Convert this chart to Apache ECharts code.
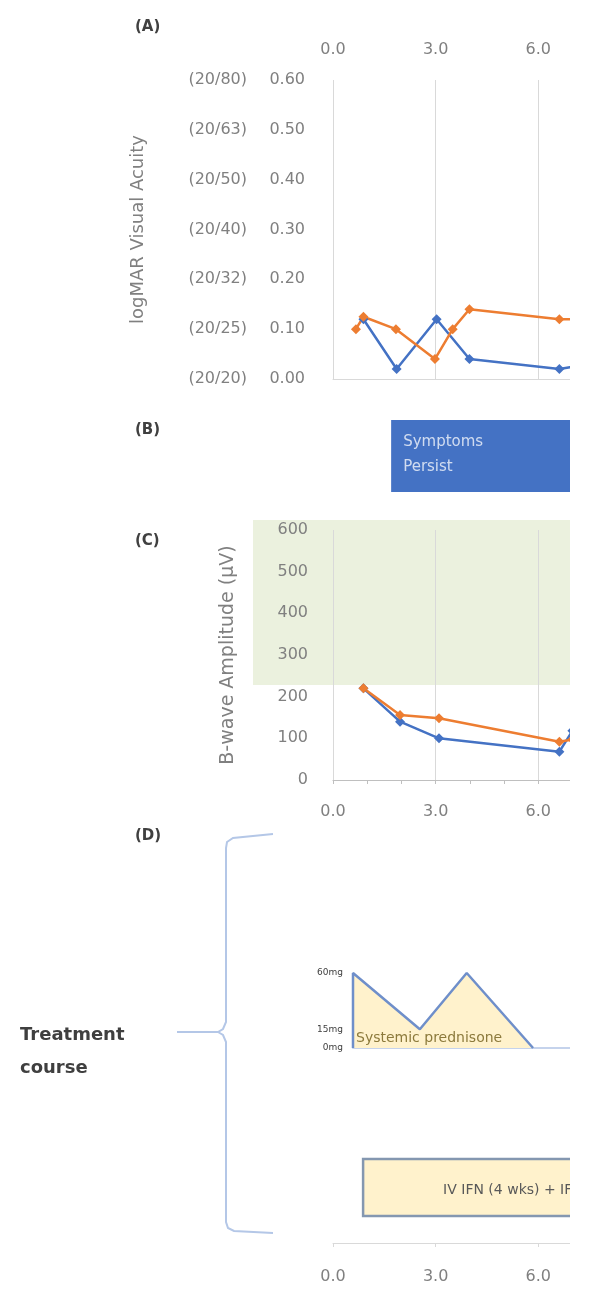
<!DOCTYPE html>
<html>
<head>
<meta charset="utf-8">
<script src="https://cdn.jsdelivr.net/npm/echarts@6/dist/echarts.min.js"></script>
<style>
  html, body { margin: 0; padding: 0; background: #fff; }
  #wrap { width: 570px; height: 1297px; overflow: hidden; }
  #main { width: 800px; height: 1297px; }
</style>
</head>
<body>
<div id="wrap"><div id="main"></div></div>
<script>
// time axis (months), shared by all panels
const xMax = 12;

// (A) visual acuity, logMAR
const snellen = ['(20/20)', '(20/25)', '(20/32)', '(20/40)', '(20/50)', '(20/63)', '(20/80)'];
const vaBlue = [[0.89, 0.12], [1.86, 0.02], [3.03, 0.12], [3.99, 0.04], [6.62, 0.02], [7.5, 0.03]];
const vaOrange = [[0.67, 0.10], [0.89, 0.125], [1.84, 0.10], [2.98, 0.04], [3.5, 0.10], [3.99, 0.14], [6.62, 0.12], [7.5, 0.12]];

// (B) symptom phase
const phases = [{ name: 'Symptoms\nPersist', start: 1.7, end: 10 }];

// (C) b-wave amplitude
const normalRange = [228, 624];
const bwBlue = [[0.89, 220], [1.96, 140], [3.1, 100], [6.62, 68], [7.0, 118]];
const bwOrange = [[0.89, 220], [1.96, 156], [3.1, 148], [6.62, 92], [7.0, 97]];

// (D) treatment course
const prednisone = [[0.585, 0], [0.585, 60], [2.54, 15], [3.91, 60], [5.85, 0]];
const prednisoneTicks = [0, 15, 60];
const ifn = [{ name: 'IV IFN (4 wks) + IFN', start: 0.88, end: 11 }];

const grey = '#808080';
const blue = '#4472C4';
const orange = '#ED7D31';
const font = '"DejaVu Sans"';
const unit = 34.2; // px per month

let chart = echarts.init(document.getElementById('main'), null, { renderer: 'canvas' });

function hiddenAxis(gridIndex, min, max) {
  return { type: 'value', gridIndex: gridIndex, min: min, max: max, show: false };
}

function renderPhase(params, api) {
  let a = api.coord([api.value(0), 0]);
  let b = api.coord([api.value(1), 1]);
  return {
    type: 'group',
    children: [
      { type: 'rect', shape: { x: a[0], y: b[1], width: b[0] - a[0], height: a[1] - b[1] }, style: { fill: blue } },
      { type: 'text', style: {
          text: phases[params.dataIndex].name, x: a[0] + 12, y: (a[1] + b[1]) / 2 - 1,
          fill: 'rgba(255,255,255,0.75)', font: '15px ' + font, lineHeight: 25, verticalAlign: 'middle'
        } }
    ]
  };
}

function renderBand(params, api) {
  let a = api.coord([0, api.value(0)]);
  let b = api.coord([1, api.value(1)]);
  return { type: 'rect', shape: { x: a[0], y: b[1], width: b[0] - a[0], height: a[1] - b[1] }, style: { fill: '#EBF1DE' } };
}

function renderIfn(params, api) {
  let a = api.coord([api.value(0), 0]);
  let b = api.coord([api.value(1), 0]);
  let top = params.coordSys.y;
  let h = 57;
  return {
    type: 'group',
    children: [
      { type: 'rect', shape: { x: a[0], y: top, width: b[0] - a[0], height: h },
        style: { fill: '#FFF2CC', stroke: '#8497B0', lineWidth: 2.5 } },
      { type: 'text', style: {
          text: ifn[params.dataIndex].name, x: a[0] + 80, y: top + h / 2 + 3,
          fill: '#595959', font: '14px ' + font, verticalAlign: 'middle'
        } }
    ]
  };
}

let lineStyleOf = (color) => ({
  type: 'line', symbol: 'diamond', symbolSize: 10,
  lineStyle: { color: color, width: 2.5 }, itemStyle: { color: color }
});

let option = {
  animation: false,
  textStyle: { fontFamily: font },
  grid: [
    { left: 333, top: 80, width: xMax * unit, height: 299 },          // A
    { left: 333, top: 420, width: xMax * unit, height: 72 },          // B
    { left: 253, top: 520, width: 547, height: 260 },                 // C normal band
    { left: 333, top: 530, width: xMax * unit, height: 250 },         // C
    { left: 353, top: 973, width: (xMax - prednisone[0][0]) * unit, height: 75 }, // prednisone
    { left: 333, top: 1159, width: xMax * unit, height: 84 }          // IFN + bottom axis
  ],
  xAxis: [
    { type: 'value', gridIndex: 0, position: 'top', min: 0, max: xMax, interval: 3,
      axisLine: { show: false }, axisTick: { show: false },
      axisLabel: { color: grey, fontSize: 16, margin: 22, formatter: v => v.toFixed(1) },
      splitLine: { show: true, lineStyle: { color: '#d9d9d9' } } },
    { type: 'value', gridIndex: 0, position: 'bottom', min: 0, max: xMax, interval: 3,
      axisLine: { show: true, onZero: false, lineStyle: { color: '#d9d9d9' } },
      axisTick: { show: false }, axisLabel: { show: false }, splitLine: { show: false } },
    hiddenAxis(1, 0, xMax),
    hiddenAxis(2, 0, 1),
    { type: 'value', gridIndex: 3, position: 'bottom', min: 0, max: xMax, interval: 3,
      axisLine: { show: true, onZero: false, lineStyle: { color: '#bfbfbf' } },
      axisTick: { show: true, length: 4, lineStyle: { color: '#bfbfbf' } },
      minorTick: { show: true, splitNumber: 3, length: 4, lineStyle: { color: '#bfbfbf' } },
      axisLabel: { color: grey, fontSize: 16, margin: 24, formatter: v => v.toFixed(1) },
      splitLine: { show: true, lineStyle: { color: '#d9d9d9' } } },
    { type: 'value', gridIndex: 4, min: prednisone[0][0], max: xMax,
      axisLine: { show: true, lineStyle: { color: '#c5d3ec', width: 2 } },
      axisTick: { show: false }, axisLabel: { show: false }, splitLine: { show: false } },
    { type: 'value', gridIndex: 5, position: 'bottom', min: 0, max: xMax, interval: 3,
      axisLine: { show: true, onZero: false, lineStyle: { color: '#d9d9d9' } },
      axisTick: { show: true, length: 4, lineStyle: { color: '#d9d9d9' } },
      axisLabel: { color: grey, fontSize: 16, margin: 26, formatter: v => v.toFixed(1) },
      splitLine: { show: false } }
  ],
  yAxis: [
    { type: 'value', gridIndex: 0, min: 0, max: 0.6, interval: 0.1,
      axisLine: { show: false }, axisTick: { show: false }, splitLine: { show: false },
      axisLabel: { color: grey, fontSize: 16, margin: 28, formatter: v => v.toFixed(2) } },
    { type: 'value', gridIndex: 0, position: 'left', offset: 58, min: 0, max: 0.6, interval: 0.1,
      axisLine: { show: false }, axisTick: { show: false }, splitLine: { show: false },
      axisLabel: { color: grey, fontSize: 16, margin: 28, formatter: v => snellen[Math.round(v * 10)] },
      name: 'logMAR Visual Acuity', nameLocation: 'middle', nameGap: 128,
      nameTextStyle: { color: grey, fontSize: 18 } },
    hiddenAxis(1, 0, 1),
    hiddenAxis(2, 0, normalRange[1]),
    { type: 'value', gridIndex: 3, min: 0, max: 600, interval: 100,
      axisLine: { show: false }, axisTick: { show: false }, splitLine: { show: false },
      axisLabel: { color: grey, fontSize: 16, margin: 25 },
      name: 'B-wave Amplitude (μV)', nameLocation: 'middle', nameGap: 95,
      nameTextStyle: { color: grey, fontSize: 19 } },
    { type: 'value', gridIndex: 4, min: 0, max: 60, interval: 15,
      axisLine: { show: false }, axisTick: { show: false }, splitLine: { show: false },
      axisLabel: { color: '#404040', fontSize: 9, margin: 10,
        formatter: v => prednisoneTicks.indexOf(v) >= 0 ? v + 'mg' : '' } },
    hiddenAxis(5, 0, 1)
  ],
  series: [
    Object.assign(lineStyleOf(blue), { name: 'VA blue', xAxisIndex: 0, yAxisIndex: 0, data: vaBlue }),
    Object.assign(lineStyleOf(orange), { name: 'VA orange', xAxisIndex: 0, yAxisIndex: 0, data: vaOrange }),
    { type: 'custom', name: 'phase', xAxisIndex: 2, yAxisIndex: 2,
      renderItem: renderPhase, data: phases.map(p => [p.start, p.end]) },
    { type: 'custom', name: 'normal range', xAxisIndex: 3, yAxisIndex: 3, z: -1,
      renderItem: renderBand, data: [normalRange] },
    Object.assign(lineStyleOf(blue), { name: 'BW blue', xAxisIndex: 4, yAxisIndex: 4, data: bwBlue }),
    Object.assign(lineStyleOf(orange), { name: 'BW orange', xAxisIndex: 4, yAxisIndex: 4, data: bwOrange }),
    { type: 'line', name: 'prednisone', xAxisIndex: 5, yAxisIndex: 5, data: prednisone,
      symbol: 'none', lineStyle: { color: '#6f8fca', width: 2.5 },
      areaStyle: { color: '#FFF2CC', opacity: 1 } },
    { type: 'custom', name: 'IFN', xAxisIndex: 6, yAxisIndex: 6,
      renderItem: renderIfn, data: ifn.map(p => [p.start, p.end]) }
  ],
  graphic: [
    { type: 'text', left: 135, top: 20, style: { text: '(A)', font: 'bold 15px ' + font, fill: '#404040' } },
    { type: 'text', left: 135, top: 423, style: { text: '(B)', font: 'bold 15px ' + font, fill: '#404040' } },
    { type: 'text', left: 135, top: 534, style: { text: '(C)', font: 'bold 15px ' + font, fill: '#404040' } },
    { type: 'text', left: 135, top: 829, style: { text: '(D)', font: 'bold 15px ' + font, fill: '#404040' } },
    { type: 'text', left: 20, top: 1019, style: { text: 'Treatment\ncourse', font: 'bold 18px ' + font, fill: '#3f3f3f', lineHeight: 33 } },
    { type: 'text', left: 356, top: 1031, z: 20, style: { text: 'Systemic prednisone', font: '14px ' + font, fill: '#8c7a3c' } },
    // curly bracket round the treatment rows
    { type: 'polyline', shape: { points: [[273, 834], [233, 838], [227, 842], [226, 848], [226, 1022], [223, 1029], [218, 1032], [177, 1032]] },
      style: { stroke: '#b4c7e7', lineWidth: 2, fill: null } },
    { type: 'polyline', shape: { points: [[218, 1032], [223, 1035], [226, 1042], [226, 1222], [228, 1228], [234, 1231], [273, 1233]] },
      style: { stroke: '#b4c7e7', lineWidth: 2, fill: null } }
  ]
};

chart.setOption(option);
</script>
</body>
</html>
